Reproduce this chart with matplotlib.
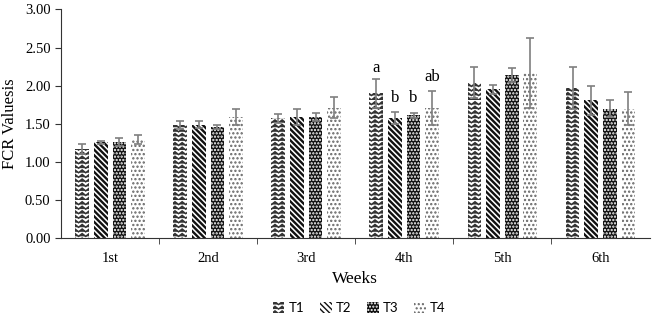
import numpy as np
import matplotlib
matplotlib.use("Agg")
import matplotlib.pyplot as plt
import matplotlib.hatch as mhatch
from matplotlib.path import Path
from matplotlib.ticker import FixedLocator, FormatStrFormatter

# ---- data ----
weeks = ["1st", "2nd", "3rd", "4th", "5th", "6th"]
series = ["T1", "T2", "T3", "T4"]
t1 = [1.17, 1.48, 1.57, 1.90, 2.04, 1.97]
t2 = [1.26, 1.49, 1.59, 1.58, 1.95, 1.81]
t3 = [1.26, 1.46, 1.59, 1.61, 2.14, 1.70]
t4 = [1.29, 1.59, 1.71, 1.71, 2.17, 1.70]
t1_err = [0.07, 0.05, 0.06, 0.19, 0.20, 0.27]
t2_err = [0.02, 0.04, 0.10, 0.08, 0.06, 0.19]
t3_err = [0.05, 0.03, 0.05, 0.03, 0.09, 0.11]
t4_err = [0.06, 0.10, 0.14, 0.22, 0.46, 0.22]
letters_4th = ["a", "b", "b", "ab"]
letter_y = [2.23, 1.84, 1.84, 2.11]


# ---- custom zigzag hatch ----
class ZigZagHatch(mhatch.HatchPatternBase):
    def __init__(self, hatch, density):
        n = hatch.count('z')
        self.rows = 22 * n if n else 0
        self.periods = 14 * n if n else 0
        self.num_vertices = self.rows * (2 * self.periods + 1) if n else 0

    def set_vertices_and_codes(self, vertices, codes):
        amp = 0.028
        k = 0
        for r in range(self.rows):
            y0 = r / self.rows
            for j in range(2 * self.periods + 1):
                x = j / (2 * self.periods)
                y = y0 + (amp if j % 2 == 1 else 0.0)
                vertices[k] = (x, y)
                codes[k] = Path.MOVETO if j == 0 else Path.LINETO
                k += 1


mhatch._hatch_types.append(ZigZagHatch)
mhatch._validate_hatch_pattern = lambda h: None

fig = plt.figure(figsize=(6.59, 3.24), dpi=100)
ax = fig.add_axes([0.0926, 0.265, 0.893, 0.706])

x = np.arange(len(weeks))
w = 0.14
step = 0.19
vals = [t1, t2, t3, t4]
errs = [t1_err, t2_err, t3_err, t4_err]
styles = [
    dict(facecolor="white", edgecolor="#333333", hatch="z"),
    dict(facecolor="white", edgecolor="#111111", hatch="\\" * 6),
    dict(facecolor="#111111", edgecolor="white", hatch="....."),
    dict(facecolor="white", edgecolor="#666666", hatch="...."),
]
hatch_lw = [1.1, 1.7, 1.1, 1.1]
for i, (v, e, st) in enumerate(zip(vals, errs, styles)):
    pos = x + (i - 1.5) * step
    with plt.rc_context({"hatch.linewidth": hatch_lw[i]}):
        ax.bar(pos, v, width=w, linewidth=0, label=series[i], **st)
    ax.errorbar(pos, v, yerr=e, fmt="none", ecolor="#7f7f7f",
                elinewidth=1.2, capsize=3, capthick=1.2)

for i, (lab, ly) in enumerate(zip(letters_4th, letter_y)):
    ax.text(3 + (i - 1.5) * step, ly, lab, ha="center", va="center",
            fontsize=12, family="Liberation Serif")

ax.set_xlim(-0.5, 5.5)
ax.set_ylim(0, 3.0)
ax.set_yticks(np.arange(0, 3.01, 0.5))
ax.yaxis.set_major_formatter(FormatStrFormatter("%.2f"))
ax.set_xticks(x)
ax.set_xticklabels(weeks)
ax.xaxis.set_minor_locator(FixedLocator(np.arange(0.5, 5.0, 1.0)))
ax.tick_params(axis="x", which="major", length=0, pad=10)
ax.tick_params(axis="x", which="minor", length=4, direction="out", color="#333333")
ax.tick_params(axis="y", length=4, direction="out", color="#333333")
for lab in ax.get_xticklabels() + ax.get_yticklabels():
    lab.set_family("Liberation Serif")
    lab.set_fontsize(10.5)
ax.set_xlabel("Weeks", family="Liberation Serif", fontsize=12.5, labelpad=4)
ax.set_ylabel("FCR Valuesis", family="Liberation Serif", fontsize=12, labelpad=5)
ax.spines["top"].set_visible(False)
ax.spines["right"].set_visible(False)
ax.spines["left"].set_color("#333333")
ax.spines["bottom"].set_color("#333333")

fig.legend(loc="center", bbox_to_anchor=(0.545, 0.049), ncol=4, frameon=False,
           handlelength=0.9, handleheight=0.9, handletextpad=0.3, columnspacing=1.2,
           prop={"family": "Lato", "size": 9.5})

fig.savefig("out.png", dpi=100)
